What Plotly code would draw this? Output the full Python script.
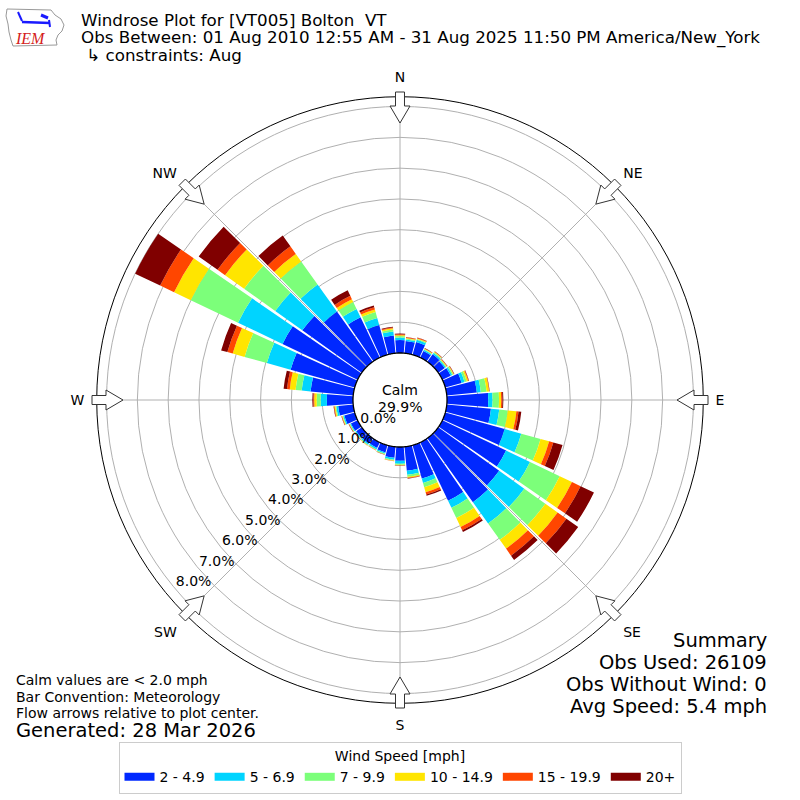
import numpy as np
import plotly.graph_objects as go

# ---------------- data (percent of observations) ----------------
directions = list(range(0, 360, 10))
speed_bins = ["2 - 4.9", "5 - 6.9", "7 - 9.9", "10 - 14.9", "15 - 19.9", "20+"]
bin_colors = ["#0028ff", "#00d4ff", "#7cff7a", "#ffe500", "#ff4600", "#800000"]

pct_2_49 = [0.42, 0.40, 0.43, 0.24, 0.30, 0.26, 0.30, 0.55, 0.98, 1.34,
            1.44, 2.00, 2.29, 2.43, 2.55, 2.10, 1.12, 0.78, 0.45, 0.36,
            0.24, 0.20, 0.22, 0.22, 0.24, 0.35, 0.49, 0.85, 1.39, 2.16,
            2.70, 2.37, 2.00, 1.45, 1.00, 0.58]
pct_5_69 = [0.08, 0.05, 0.07, 0.04, 0.05, 0.04, 0.05, 0.10, 0.13, 0.14,
            0.27, 0.56, 0.86, 1.00, 0.85, 0.25, 0.15, 0.13, 0.09, 0.06,
            0.04, 0.05, 0.04, 0.03, 0.03, 0.04, 0.06, 0.20, 0.29, 0.80,
            1.60, 1.08, 1.08, 0.30, 0.24, 0.13]
pct_7_99 = [0.05, 0.03, 0.03, 0.02, 0.03, 0.03, 0.04, 0.07, 0.19, 0.21,
            0.28, 0.65, 1.07, 0.84, 0.65, 0.37, 0.14, 0.07, 0.04, 0.03,
            0.02, 0.02, 0.02, 0.02, 0.02, 0.02, 0.03, 0.13, 0.20, 0.75,
            1.70, 1.24, 0.92, 0.25, 0.20, 0.06]
pct_10_149 = [0.03, 0.02, 0.02, 0.02, 0.02, 0.02, 0.02, 0.05, 0.08, 0.07,
              0.28, 0.29, 0.44, 0.49, 0.35, 0.32, 0.17, 0.03, 0.01, 0.01,
              0.01, 0.01, 0.01, 0.01, 0.01, 0.02, 0.03, 0.08, 0.19, 0.40,
              0.60, 0.76, 0.30, 0.10, 0.08, 0.04]
pct_15_199 = [0.03, 0.02, 0.02, 0.01, 0.01, 0.01, 0.01, 0.02, 0.01, 0.04,
              0.07, 0.14, 0.31, 0.35, 0.28, 0.12, 0.08, 0.02, 0.01, 0.01,
              0.00, 0.01, 0.01, 0.01, 0.01, 0.01, 0.02, 0.03, 0.09, 0.18,
              0.50, 0.30, 0.30, 0.12, 0.08, 0.03]
pct_20p = [0.02, 0.01, 0.01, 0.01, 0.01, 0.01, 0.01, 0.01, 0.01, 0.03,
           0.09, 0.31, 0.48, 0.47, 0.17, 0.06, 0.04, 0.01, 0.01, 0.00,
           0.01, 0.00, 0.00, 0.01, 0.01, 0.01, 0.01, 0.03, 0.11, 0.21,
           0.90, 0.75, 0.43, 0.20, 0.06, 0.02]
series = [pct_2_49, pct_5_69, pct_7_99, pct_10_149, pct_15_199, pct_20p]

radial_ticks = [0, 1, 2, 3, 4, 5, 6, 7, 8]
radial_labels = [f"{v:.1f}%" for v in radial_ticks]
compass_angles = [0, 45, 90, 135, 180, 225, 270, 315]
compass_labels = ["N", "NE", "E", "SE", "S", "SW", "W", "NW"]
calm_pct = 29.9

FONT = "DejaVu Sans"
W = H = 800
CX, CY, R_OUT = 400.0, 400.0, 303.3
R_MIN, R_MAX = -1.526, 8.32       # radial range (0 % sits on the calm circle)
LABEL_SHIFT = 0.58                # radial labels sit just inside each ring
LABEL_ANGLE = 228.5


def P(x, y):
    return x / W, 1 - y / H


fig = go.Figure()

for name, vals, col in zip(speed_bins, series, bin_colors):
    fig.add_trace(go.Barpolar(
        r=vals, theta=directions, width=9, name=name,
        marker=dict(color=col, line=dict(width=0)),
        showlegend=False,
    ))
    # legend swatch (wide rectangle like the original)
    fig.add_trace(go.Scatter(
        x=[None], y=[None], mode="lines", name=name,
        line=dict(color=col, width=8), showlegend=True,
    ))

# calm circle: white disc with black outline
theta_c = np.linspace(0, 360, 361)
fig.add_trace(go.Scatterpolar(
    r=np.zeros_like(theta_c), theta=theta_c, mode="lines",
    fill="toself", fillcolor="white",
    line=dict(color="black", width=1.3), showlegend=False, hoverinfo="skip",
))

# radial tick labels along the SW grid line
fig.add_trace(go.Scatterpolar(
    r=[t - LABEL_SHIFT for t in radial_ticks],
    theta=[LABEL_ANGLE] * len(radial_ticks),
    mode="text", text=radial_labels, textposition="middle center",
    textfont=dict(size=14, family=FONT, color="black"),
    showlegend=False, hoverinfo="skip",
))

x0, _ = P(CX - R_OUT, 0)
x1, _ = P(CX + R_OUT, 0)
_, y0 = P(0, CY + R_OUT)
_, y1 = P(0, CY - R_OUT)

fig.update_layout(
    width=W, height=H,
    margin=dict(l=0, r=0, t=0, b=0),
    paper_bgcolor="white", plot_bgcolor="white",
    font=dict(family=FONT, color="black", size=14),
    xaxis=dict(visible=False), yaxis=dict(visible=False),
    polar=dict(
        domain=dict(x=[x0, x1], y=[y0, y1]),
        hole=0,
        bgcolor="white",
        barmode="stack",
        radialaxis=dict(
            range=[R_MIN, R_MAX], tickvals=radial_ticks[1:],
            showticklabels=False, showline=False,
            ticks="", gridcolor="#b0b0b0", gridwidth=1,
        ),
        angularaxis=dict(
            rotation=90, direction="clockwise",
            tickvals=compass_angles, ticktext=compass_labels,
            showline=True, linecolor="black", linewidth=1,
            gridcolor="#b0b0b0", gridwidth=1,
            ticks="outside", ticklen=9, tickcolor="rgba(0,0,0,0)",
            tickfont=dict(size=14, family=FONT, color="black"),
        ),
    ),
    legend=dict(
        orientation="h", x=0.5, xanchor="center", y=1 - 742 / H, yanchor="top",
        bordercolor="#cccccc", borderwidth=1, bgcolor="white",
        font=dict(size=14, family=FONT),
        title=dict(text="Wind Speed [mph]", side="top center",
                   font=dict(size=14, family=FONT)),
        itemclick=False, itemdoubleclick=False,
    ),
)

# ---------------- flow arrows ----------------
shapes = []
for d in compass_angles:
    a = np.deg2rad(d)
    ux, uy = np.sin(a), -np.cos(a)
    px_, py_ = np.cos(a), np.sin(a)

    def pt(r, off):
        return P(CX + r * ux + off * px_, CY + r * uy + off * py_)

    pts = [pt(277, 0), pt(294, 10), pt(294, 4.5), pt(308, 4.5),
           pt(308, -4.5), pt(294, -4.5), pt(294, -10)]
    path = "M " + " L ".join(f"{x:.5f},{y:.5f}" for x, y in pts) + " Z"
    shapes.append(dict(type="path", path=path, xref="paper", yref="paper",
                       fillcolor="white", line=dict(color="#333333", width=1),
                       layer="above"))

# ---------------- logo ----------------
iowa = [(7, 9), (51, 10), (55, 15), (61, 19), (64, 25), (62, 31), (58, 35),
        (56, 40), (57, 45), (13, 46), (11, 40), (9, 32), (8, 24), (6, 16)]
path = "M " + " L ".join("{:.5f},{:.5f}".format(*P(x, y)) for x, y in iowa) + " Z"
shapes.append(dict(type="path", path=path, xref="paper", yref="paper",
                   line=dict(color="#999999", width=1), fillcolor="white",
                   layer="above"))
for (xa, ya, xb, yb, lw) in [(22, 22, 50, 23, 2.5), (18, 12, 22, 21, 2),
                             (41, 15, 48, 18, 3), (49, 20, 50, 27, 2)]:
    a0, b0 = P(xa, ya)
    a1, b1 = P(xb, yb)
    shapes.append(dict(type="line", x0=a0, y0=b0, x1=a1, y1=b1,
                       xref="paper", yref="paper", layer="above",
                       line=dict(color="#1a1aff", width=lw)))
fig.update_layout(shapes=shapes)

ann = []


def text(x, y, s, size, anchor="left", color="black", family=FONT, **kw):
    xp, yp = P(x, y)
    ann.append(dict(x=xp, y=yp, xref="paper", yref="paper", text=s,
                    showarrow=False, xanchor=anchor, yanchor="middle",
                    font=dict(size=size, family=family, color=color), **kw))


text(30, 39, "<i>IEM</i>", 16, anchor="center", color="#d42020",
     family="Liberation Serif")
text(79, 20, "Windrose Plot for [VT005] Bolton  VT", 16.7)
text(79, 37, "Obs Between: 01 Aug 2010 12:55 AM - 31 Aug 2025 11:50 PM America/New_York", 16.7)
text(79, 55, " ↳ constraints: Aug", 16.7)

text(400, 390, "Calm", 14, anchor="center")
text(400, 407, f"{calm_pct:.1f}%", 14, anchor="center")

text(14, 680, "Calm values are < 2.0 mph", 14)
text(14, 697, "Bar Convention: Meteorology", 14)
text(14, 713, "Flow arrows relative to plot center.", 14)
text(14, 730, "Generated: 28 Mar 2026", 19.5)

text(769, 640, "Summary", 19.5, anchor="right")
text(769, 662, "Obs Used: 26109", 19.5, anchor="right")
text(769, 684, "Obs Without Wind: 0", 19.5, anchor="right")
text(769, 706, "Avg Speed: 5.4 mph", 19.5, anchor="right")

fig.update_layout(annotations=ann)

fig.write_html("out.html", config={"displayModeBar": False},
               post_script="document.body.style.margin='0';")
